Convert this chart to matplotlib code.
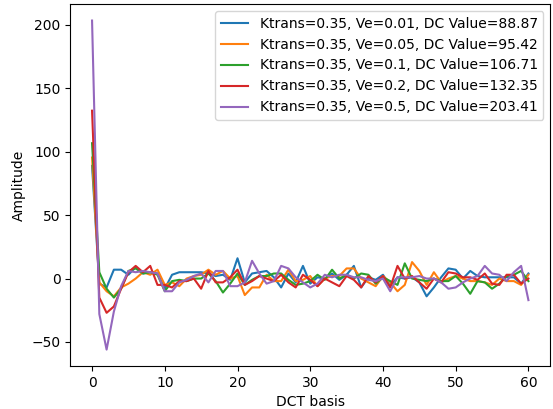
import matplotlib
matplotlib.use("Agg")
import matplotlib.pyplot as plt
import numpy as np

x = np.arange(61)

ve001 = [88.87, -4, -7, 7, 7, 3, 9, 4, 5, 4, -8, 3, 5, 5, 5, 5, 4, 2, 3, -1,
         16, -3, 4, 5, 6, 1, -7, 4, -3, 10, -4, 1, 0, 4, -1, 3, 10, -7, 1, -1,
         3, -6, 1, 0, 1, -3, -14, -7, 1, 8, 7, 0, 6, 2, 1, 1, 1, 1, 1, -4, 4]
ve005 = [95.42, -3, -10, -14, -7, -4, 0, 5, 3, 7, -5, -3, -6, 0, 2, 3, 7, 3, 6, 0,
         2, -13, -7, -7, 3, -2, -2, 7, -2, -1, 2, -6, 0, 2, 2, 8, 8, 0, -3, -6,
         2, -3, -10, -5, 13, 6, -5, 5, -3, 0, 2, 0, -2, -2, -3, -5, 0, -2, -2, -5, 3]
ve01 = [106.71, 5, -8, -15, -8, 6, 8, 4, 5, 3, -10, -2, -1, -2, 0, 0, 4, -2, -11, -4,
        4, -5, -1, 2, 2, 4, 4, -1, -5, -4, -2, 3, -1, 7, 0, 3, 0, 4, 3, -4,
        1, -2, -5, 12, 0, -1, -2, 0, -2, -2, 2, -4, -12, -2, -3, -8, -4, 2, 3, 6, -2]
ve02 = [132.35, -15, -27, -22, -8, 5, 10, 5, 10, -5, -5, -7, -2, -2, 0, -8, 6, -3, -3, 1,
        7, -5, -2, 2, 0, -2, 3, -3, -7, 3, -1, -6, 0, -3, -6, 2, -1, -7, 2, -3,
        2, -7, 10, 0, 2, -3, -8, 0, -3, 5, 4, 1, 1, -1, 4, -4, -5, 3, 3, -4, 0]
ve05 = [203.41, -28, -56, -26, -6, 6, 5, 6, 5, 4, -10, -10, -3, -1, 2, 4, -3, 6, 6, -6,
        -6, -3, 14, 4, -4, -2, 10, 8, 1, -3, -7, -4, 3, 1, 3, 3, 1, 1, -1, -2,
        0, -10, 1, 1, 1, 2, 0, 0, -3, -8, -7, -3, 0, 2, 10, 4, 3, -2, 5, 10, -17]

series = [
    ("Ktrans=0.35, Ve=0.01, DC Value=88.87", ve001, "#1f77b4"),
    ("Ktrans=0.35, Ve=0.05, DC Value=95.42", ve005, "#ff7f0e"),
    ("Ktrans=0.35, Ve=0.1, DC Value=106.71", ve01, "#2ca02c"),
    ("Ktrans=0.35, Ve=0.2, DC Value=132.35", ve02, "#d62728"),
    ("Ktrans=0.35, Ve=0.5, DC Value=203.41", ve05, "#9467bd"),
]

fig = plt.figure(figsize=(5.53, 4.09), dpi=100)
ax = fig.add_axes([0.127, 0.105, 0.868, 0.885])
for label, vals, c in series:
    ax.plot(x, vals, color=c, label=label, linewidth=1.5)
ax.set_xlabel("DCT basis")
ax.set_ylabel("Amplitude")
ax.legend(loc="upper right", fontsize=10)
fig.savefig("out.png", dpi=100)
